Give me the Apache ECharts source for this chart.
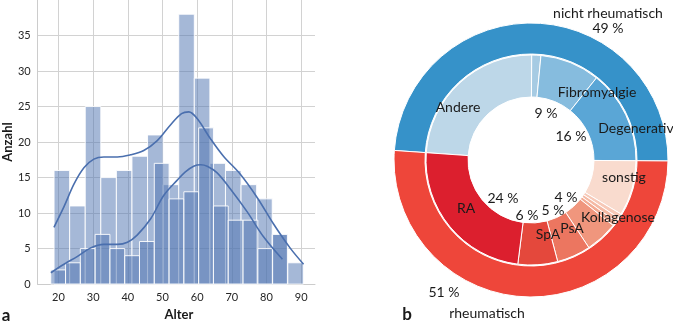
<!DOCTYPE html>
<html>
<head>
<meta charset="utf-8">
<script src="https://cdn.jsdelivr.net/npm/echarts@6/dist/echarts.min.js"></script>
<style>
	html, body { margin: 0; padding: 0; background: #fff; }
	#main { width: 673px; height: 326px; }
</style>
</head>
<body>
<div id="main"></div>
<script>
	/* a: Histogramm Alter, zwei ueberlagerte Gruppen */
	var lightStart = 18.73, lightBinWidth = 4.495;
	var lightCounts = [16, 11, 25, 15, 16, 18, 21, 14, 38, 29, 17, 16, 14, 12, 7, 3];
	var darkStart = 17.78, darkBinWidth = 4.266;
	var darkCounts = [2, 3, 5, 7, 5, 4, 6, 17, 12, 13, 22, 11, 9, 9, 5, 7];

	/* KDE-Kurven */
	var kdeUpperX = [18.7, 21.6, 24.5, 27.4, 30.2, 33.1, 37.0, 40.8, 44.6, 48.5, 52.3, 55.5, 57.6, 60.0, 63.8, 67.6, 72.4, 77.3, 82.0, 86.8, 90.7];
	var kdeUpperY = [8.0, 10.9, 14.1, 16.4, 17.6, 17.9, 17.9, 18.2, 18.8, 20.2, 22.4, 24.0, 24.25, 23.3, 20.5, 18.0, 15.5, 12.2, 8.5, 5.1, 2.8];
	var kdeLowerX = [17.8, 21.6, 25.5, 29.3, 33.1, 37.0, 39.9, 42.7, 46.6, 50.4, 54.2, 56.6, 59.0, 61.0, 62.9, 65.7, 69.6, 74.4, 79.1, 84.6];
	var kdeLowerY = [1.6, 2.8, 3.9, 5.1, 5.6, 5.6, 5.9, 6.9, 9.2, 12.5, 14.6, 15.8, 16.6, 16.8, 16.6, 15.7, 13.4, 10.2, 6.7, 3.5];

	/* b: Ringdiagramm */
	var outerNames = ['nicht rheumatisch', 'rheumatisch'];
	var outerValues = [49, 51];
	var innerNames = ['Andere', 'x1', 'Fibromyalgie', 'Degenerativ', 'sonstig', 'x2', 'x3', 'x4', 'Kollagenose', 'PsA', 'SpA', 'RA'];
	var innerValues = [24, 1.4, 9.2, 14.4, 8.5, 0.7, 0.7, 0.7, 5.0, 5.2, 6.1, 24.1];

	var outerColors = ['#3692c9', '#ee463a'];
	var innerColors = ['#bdd7e8', '#a6cbe3', '#86bcde', '#5aa6d6', '#f9dbce', '#f7c9b8', '#f5baa5', '#f3ab93', '#f0967d', '#ec7660', '#e4483c', '#dc1f2e'];

	/* Beschriftungen im Ring (Text, x, y) */
	var ringTexts = [
		['nicht rheumatisch', 608, 13], ['49 %', 608, 28],
		['Andere', 458, 107], ['Fibromyalgie', 597, 92], ['9 %', 546, 113],
		['16 %', 571, 136], ['Degenerativ', 636, 128], ['sonstig', 624, 177],
		['24 %', 503, 198], ['RA', 466, 208], ['6 %', 527, 215], ['5 %', 553, 210],
		['4 %', 566, 197], ['SpA', 548, 234], ['PsA', 572, 228], ['Kollagenose', 618, 217],
		['51 %', 444, 292], ['rheumatisch', 487, 313]
	];

	var FONT = 'Lato, "Open Sans", sans-serif';
	var BAR_FILL = 'rgba(76,114,176,0.5)';

	function binData(start, width, counts) {
		return counts.map(function (c, i) {
			return [start + i * width, c, start + (i + 1) * width];
		});
	}

	function renderBin(params, api) {
		var p0 = api.coord([api.value(0), api.value(1)]);
		var p1 = api.coord([api.value(2), 0]);
		return {
			type: 'rect',
			shape: { x: p0[0], y: p0[1], width: p1[0] - p0[0], height: p1[1] - p0[1] },
			style: { fill: BAR_FILL, stroke: 'rgba(255,255,255,0.9)', lineWidth: 1 }
		};
	}

	function pairs(xs, ys) {
		return xs.map(function (x, i) { return [x, ys[i]]; });
	}

	function textEl(text, x, y, font) {
		return {
			type: 'text', silent: true, z: 100, zlevel: 0,
			style: { text: text, x: x, y: y, fill: '#1a1a1a', font: font,
				align: 'center', verticalAlign: 'middle', textAlign: 'center', textVerticalAlign: 'middle' }
		};
	}

	var graphics = ringTexts.map(function (t) {
		return textEl(t[0], t[1], t[2], '14px ' + FONT);
	});
	graphics.push(textEl('a', 6, 316, 'bold 17px ' + FONT));
	graphics.push(textEl('b', 407, 315, 'bold 17px ' + FONT));

	var myChart = echarts.init(document.getElementById('main'));
	var option = {
		animation: false,
		textStyle: { fontFamily: FONT },
		grid: { left: 37, right: 358, top: 0, bottom: 37.7, containLabel: false },
		xAxis: {
			type: 'value', min: 14, max: 94, splitNumber: 8,
			name: 'Alter', nameLocation: 'middle', nameGap: 20,
			nameTextStyle: { fontWeight: 'bold', fontSize: 13, color: '#1a1a1a', fontFamily: FONT, padding: [0, 0, 0, 5] },
			axisLine: { show: true, lineStyle: { color: '#cccccc' } },
			axisTick: { show: false },
			axisLabel: {
				fontSize: 11, color: '#262626', margin: 8, showMinLabel: false, showMaxLabel: false,
				formatter: function (v) { return v % 10 === 0 ? String(v) : ''; }
			},
			splitLine: { show: true, showMaxLine: false, lineStyle: { color: '#d2d2d2', width: 1 } }
		},
		yAxis: {
			type: 'value', min: 0, max: 40, interval: 5,
			name: 'Anzahl', nameLocation: 'middle', nameGap: 21,
			nameTextStyle: { fontWeight: 'bold', fontSize: 13, color: '#1a1a1a', fontFamily: FONT },
			axisLine: { show: true, lineStyle: { color: '#cccccc' } },
			axisTick: { show: false },
			axisLabel: { fontSize: 11, color: '#262626', margin: 7, showMaxLabel: false },
			splitLine: { show: true, showMaxLine: false, lineStyle: { color: '#d2d2d2', width: 1 } }
		},
		series: [
			{
				type: 'custom', silent: true, renderItem: renderBin,
				encode: { x: [0, 2], y: 1 },
				data: binData(lightStart, lightBinWidth, lightCounts), z: 2
			},
			{
				type: 'custom', silent: true, renderItem: renderBin,
				encode: { x: [0, 2], y: 1 },
				data: binData(darkStart, darkBinWidth, darkCounts), z: 3
			},
			{
				type: 'line', silent: true, smooth: 0.35, symbol: 'none', z: 4,
				lineStyle: { color: '#4a6fae', width: 1.6 },
				data: pairs(kdeUpperX, kdeUpperY)
			},
			{
				type: 'line', silent: true, smooth: 0.35, symbol: 'none', z: 4,
				lineStyle: { color: '#4a6fae', width: 1.6 },
				data: pairs(kdeLowerX, kdeLowerY)
			},
			{
				type: 'pie', silent: true, center: [531, 160], radius: [106, 137], z: 1,
				startAngle: 176, clockwise: true, label: { show: false }, labelLine: { show: false },
				itemStyle: { borderColor: '#fff', borderWidth: 1 },
				data: outerNames.map(function (n, i) {
					return { name: n, value: outerValues[i], itemStyle: { color: outerColors[i] } };
				})
			},
			{
				type: 'pie', silent: true, center: [531, 160], radius: [63, 105], z: 1,
				startAngle: 176, clockwise: true, label: { show: false }, labelLine: { show: false },
				itemStyle: { borderColor: '#fff', borderWidth: 1 },
				data: innerNames.map(function (n, i) {
					return { name: n, value: innerValues[i], itemStyle: { color: innerColors[i] } };
				})
			}
		],
		graphic: { elements: graphics }
	};
	myChart.setOption(option);
</script>
</body>
</html>
